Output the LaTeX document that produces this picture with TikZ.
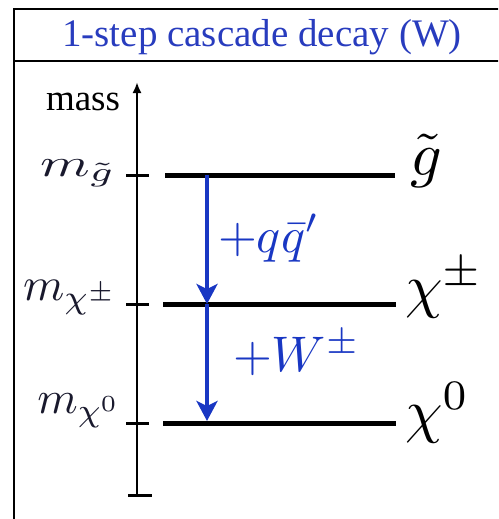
\documentclass[tikz,border=0pt]{standalone}
\usepackage[no-math]{fontspec}
\setmainfont{Liberation Serif}
\usetikzlibrary{arrows.meta}
\definecolor{titleblue}{RGB}{40,60,190}
\definecolor{arrowblue}{RGB}{25,55,195}
\definecolor{labdark}{RGB}{25,25,45}
\newcommand{\bigmath}[3][1]{\scalebox{#1}[1]{\scalebox{#2}{#3}}}
\tikzset{
  frame/.style={line width=2pt, black},
  level/.style={line width=5pt, black},
  tickmark/.style={line width=3pt, black},
  axis/.style={line width=2.2pt, black, -{Latex[length=11pt,width=9pt]}},
  decay/.style={line width=4pt, arrowblue, -{Stealth[length=20pt,width=21pt,inset=5pt]}},
  lab/.style={inner sep=0pt, outer sep=0pt, font=\fontsize{10}{10}\selectfont}
}
\begin{document}
\begin{tikzpicture}[x=1pt,y=-1pt]
\useasboundingbox (0,0) rectangle (498,519);
\clip (0,0) rectangle (498,519);
% frame
\coordinate (fbl) at (14,540);
\coordinate (ftl) at (14,9);
\coordinate (ftr) at (520,9);
\coordinate (fsl) at (14,61);
\coordinate (fsr) at (520,61);
\draw[frame] (fbl) -- (ftl) -- (ftr);
\draw[frame] (fsl) -- (fsr);
\node[lab, anchor=base, text=titleblue] (title) at (262,47) {\scalebox{3.9}{1-step cascade decay (W)}};
% axis
\coordinate (axbot) at (137,495);
\coordinate (axtop) at (137,82);
\draw[axis] (axbot) -- (axtop);
\coordinate (tb1) at (128,495); \coordinate (tb2) at (152,495);
\draw[tickmark] (tb1) -- (tb2);
\node[lab, anchor=base west] (mass) at (46,110) {\scalebox{3.7}{mass}};
% ticks
\coordinate (tg1) at (126,175); \coordinate (tg2) at (149,175);
\coordinate (tc1) at (126,304); \coordinate (tc2) at (149,304);
\coordinate (tn1) at (126,423); \coordinate (tn2) at (149,423);
\draw[tickmark] (tg1) -- (tg2);
\draw[tickmark] (tc1) -- (tc2);
\draw[tickmark] (tn1) -- (tn2);
% levels
\coordinate (gL) at (165,175); \coordinate (gR) at (395,175);
\coordinate (cL) at (163,304); \coordinate (cR) at (396,304);
\coordinate (nL) at (163,423); \coordinate (nR) at (396,423);
\draw[level] (gL) -- (gR);
\draw[level] (cL) -- (cR);
\draw[level] (nL) -- (nR);
% decay arrows
\coordinate (a1) at (207,175);
\coordinate (a2) at (207,304);
\coordinate (a3) at (207,421);
\draw[decay] (a1) -- (a2);
\draw[decay] (a2) -- (a3);
\node[lab, anchor=base west, text=arrowblue] (qq) at (218,252) {\bigmath{5}{$+q\bar q'$}};
\node[lab, anchor=base west, text=arrowblue] (ww) at (233,371) {\bigmath{5}{$+W^\pm$}};
% right labels
\node[lab, anchor=base west] (gl) at (410,175) {\bigmath{6.2}{$\tilde g$}};
\node[lab, anchor=base west] (chpm) at (405,306) {\bigmath{6}{$\chi^\pm$}};
\node[lab, anchor=base west] (chz) at (405,431) {\bigmath{6}{$\chi^0$}};
% left labels
\node[lab, anchor=base east, text=labdark] (mg) at (116,176) {\bigmath[1.45]{3.9}{$m_{\tilde g}$}};
\node[lab, anchor=base east, text=labdark] (mc) at (118,300) {\bigmath{4.7}{$m_{\chi^\pm}$}};
\node[lab, anchor=base east, text=labdark] (mn) at (121,413) {\bigmath{4.6}{$m_{\chi^0}$}};
\end{tikzpicture}
\end{document}
